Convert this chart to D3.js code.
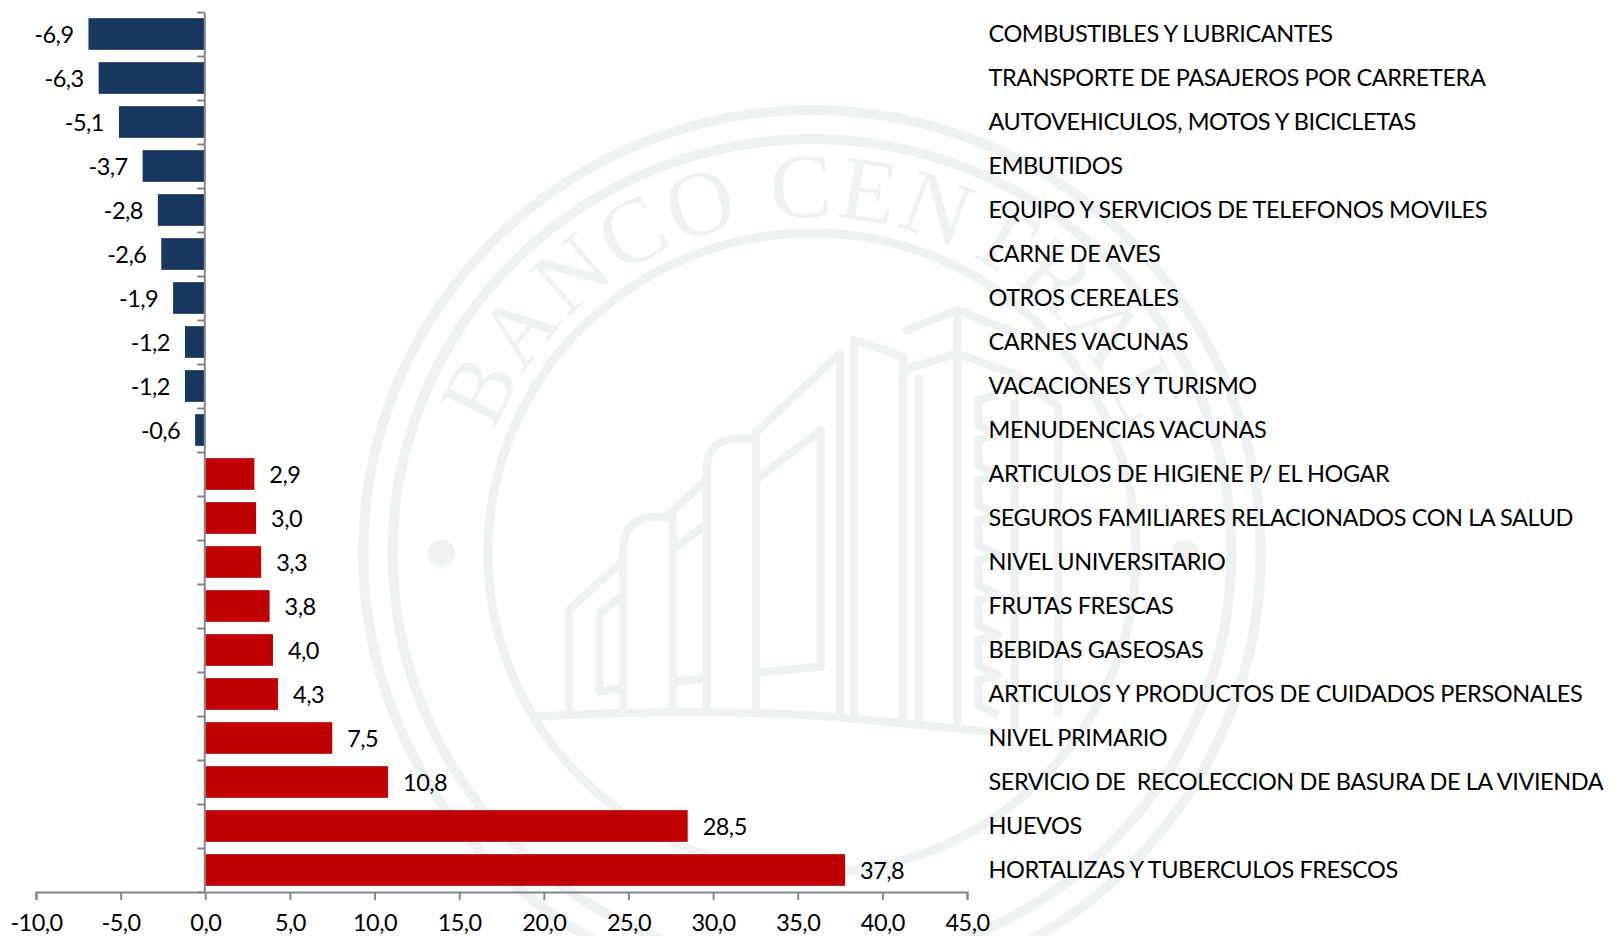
<!DOCTYPE html>
<html><head><meta charset="utf-8">
<script src="https://cdn.jsdelivr.net/npm/d3@7"></script>
<style>
html,body{margin:0;padding:0;background:#fff;overflow:hidden}
svg{display:block}
text{font-family:Lato,"Open Sans",sans-serif;fill:#000}
.cat{font-size:23.5px;letter-spacing:-0.42px}
.val,.tick-label{font-size:23.5px;letter-spacing:-0.55px}
.wm{fill:none;stroke:#eef2f3}
.wmt{font-family:"Liberation Serif",serif;font-size:92px;fill:#eef2f3}
</style></head><body>
<svg id="c" width="1615" height="936"></svg>
<script>
const categories = ["COMBUSTIBLES Y LUBRICANTES","TRANSPORTE DE PASAJEROS POR CARRETERA","AUTOVEHICULOS, MOTOS Y BICICLETAS","EMBUTIDOS","EQUIPO Y SERVICIOS DE TELEFONOS MOVILES","CARNE DE AVES","OTROS CEREALES","CARNES VACUNAS","VACACIONES Y TURISMO","MENUDENCIAS VACUNAS","ARTICULOS DE HIGIENE P/ EL HOGAR","SEGUROS FAMILIARES RELACIONADOS CON LA SALUD","NIVEL UNIVERSITARIO","FRUTAS FRESCAS","BEBIDAS GASEOSAS","ARTICULOS Y PRODUCTOS DE CUIDADOS PERSONALES","NIVEL PRIMARIO","SERVICIO DE  RECOLECCION DE BASURA DE LA VIVIENDA","HUEVOS","HORTALIZAS Y TUBERCULOS FRESCOS"];
const values = [-6.9,-6.3,-5.1,-3.7,-2.8,-2.6,-1.9,-1.2,-1.2,-0.6,2.9,3.0,3.3,3.8,4.0,4.3,7.5,10.8,28.5,37.8];
const xTicks = [-10,-5,0,5,10,15,20,25,30,35,40,45];

const svg = d3.select("#c");
const fmt = v => v.toFixed(1).replace(".",",");

// ---- watermark
const wm = svg.append("g").attr("transform","translate(812,553) scale(1.013,1)");
[[443,10],[414,10],[320,9]].forEach(([r,w])=>wm.append("circle").attr("class","wm").attr("r",r).attr("stroke-width",w));
[-366,368].forEach(x=>wm.append("circle").attr("cx",x).attr("r",13.5).attr("fill","#eef2f3"));
const arcPt=(r,a)=>[r*Math.sin(a*Math.PI/180),-r*Math.cos(a*Math.PI/180)];
const topR=336;
const defs=svg.append("defs");
defs.append("path").attr("id","wmTop").attr("d",`M${arcPt(topR,-120)} A${topR} ${topR} 0 1 1 ${arcPt(topR,120)}`);
const bot=398;
defs.append("path").attr("id","wmBot").attr("d",`M${arcPt(bot,-120)} A${bot} ${bot} 0 1 0 ${arcPt(bot,120)}`);
wm.append("text").attr("class","wmt").attr("letter-spacing",3).attr("text-anchor","middle")
  .append("textPath").attr("href","#wmTop").attr("startOffset","50%").text("BANCO CENTRAL");
wm.append("text").attr("class","wmt").attr("letter-spacing",3).attr("text-anchor","middle")
  .append("textPath").attr("href","#wmBot").attr("startOffset","50%").text("DEL PARAGUAY");

const b = svg.append("g").attr("transform","translate(550,320) scale(0.3333)")
  .attr("fill","none").attr("stroke","#eef2f3").attr("stroke-width",25).attr("stroke-linejoin","round");
let ribs="M1345 225";
d3.range(0,8).forEach(i=>{const y=240+i*120; ribs+=`L1285 ${y} L1285 ${y+75} L1345 ${y+105}`;});
[
 "M-48 1190 C300 1172 640 1172 900 1195 L1350 1238",
 "M57 1175 L57 870 L220 720",
 "M220 1105 L148 1115 L148 880 L220 825",
 "M220 1175 L220 690 Q220 590 320 590 L368 590 L368 1175",
 "M355 585 L470 478",
 "M368 690 L470 612",
 "M368 1085 L470 1075",
 "M470 1175 L470 450 Q470 355 570 355 L618 355 L618 1185",
 "M610 345 L870 100 L870 1190",
 "M618 480 L812 330 L812 1040 L618 1058",
 "M912 1190 L912 60 L1060 110 L1060 1205",
 "M1060 35 L1222 -30 L1400 40",
 "M1060 150 L1222 100 L1400 165",
 "M1222 -30 L1222 1220",
 "M1108 165 L1108 1205",
 "M1400 165 L1525 260 L1525 1190",
 ribs,
 "M1395 240 L1395 1230"
].forEach(d=>b.append("path").attr("d",d));

// ---- scales
const x = d3.scaleLinear().domain([-10,45]).range([36,967]);
const y = d3.scaleBand().domain(categories).range([12,892]).paddingInner(0.28).paddingOuter(0.14);
const yEdges = d3.scaleLinear().domain([0,categories.length]).range([12,892]);

// ---- bars
svg.append("g").selectAll("rect").data(values).join("rect")
  .attr("x",d=>Math.min(x(d),x(0))).attr("width",d=>Math.abs(x(d)-x(0)))
  .attr("y",(d,i)=>y(categories[i])).attr("height",y.bandwidth())
  .attr("fill",d=>d<0?"#17375E":"#C00000");

// ---- axes
const xAxis = d3.axisBottom(x).tickValues(xTicks).tickFormat(fmt).tickSize(8).tickPadding(14);
const gx = svg.append("g").attr("transform","translate(0,892)").call(xAxis);
const yAxis = d3.axisLeft(yEdges).tickValues(d3.range(categories.length+1)).tickFormat("").tickSize(7).tickSizeOuter(0);
const gy = svg.append("g").attr("transform",`translate(${x(0)-1},0)`).call(yAxis);
gy.selectAll("text").remove();
[gx,gy].forEach(g=>{g.selectAll("path").attr("stroke","#868686").attr("stroke-width",2);
  g.selectAll("line").attr("stroke","#868686").attr("stroke-width",2);});
gx.selectAll("text").attr("class","tick-label").attr("fill","#000");
gx.attr("font-size",null).attr("font-family",null);

// ---- value labels
svg.append("g").selectAll("text").data(values).join("text").attr("class","val")
  .attr("x",d=>d<0?x(d)-15:x(d)+15)
  .attr("y",(d,i)=>y(categories[i])+y.bandwidth()/2).attr("dy","0.38em")
  .attr("text-anchor",d=>d<0?"end":"start").text(fmt);

// ---- category labels
svg.append("g").selectAll("text").data(categories).join("text").attr("class","cat")
  .attr("x",988.5).attr("y",d=>y(d)+y.bandwidth()/2+1).attr("dy","0.3em")
  .style("white-space","pre").text(d=>d);
</script>
</body></html>
